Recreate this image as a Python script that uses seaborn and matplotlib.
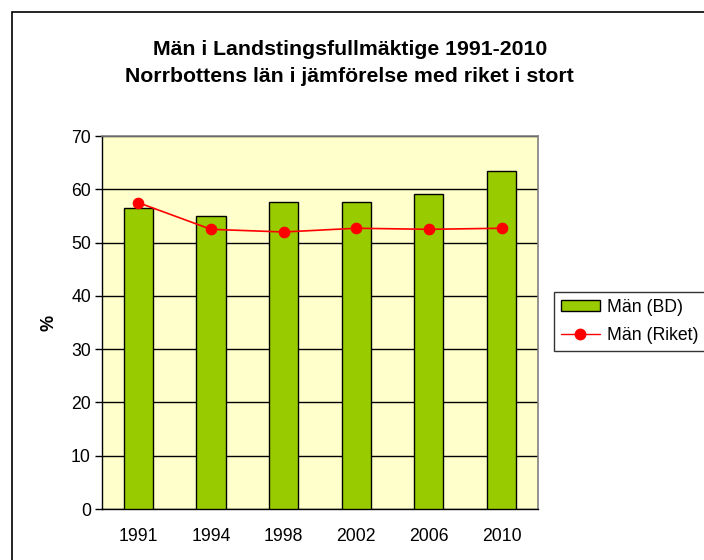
import numpy as np
import pandas as pd
import seaborn as sns
import matplotlib.pyplot as plt
from matplotlib.patches import Rectangle, Patch
from matplotlib.lines import Line2D

years = ["1991", "1994", "1998", "2002", "2006", "2010"]
man_bd = [56.5, 55.0, 57.7, 57.7, 59.1, 63.4]
man_riket = [57.5, 52.5, 52.0, 52.7, 52.5, 52.7]

df = pd.DataFrame({"year": years, "bd": man_bd, "riket": man_riket})

sns.set_style("white")
plt.rcParams['font.family'] = ['Liberation Sans', 'DejaVu Sans']
for key in ["text.color", "axes.labelcolor", "xtick.color", "ytick.color"]:
    plt.rcParams[key] = "black"

fig = plt.figure(figsize=(7.04, 5.6), dpi=100)
ax = fig.add_axes([0.145, 0.091, 0.619, 0.666])
ax.set_facecolor("#ffffcc")

sns.barplot(data=df, x="year", y="bd", color="#99cc00", edgecolor="black",
            linewidth=1, width=0.4, saturation=1, ax=ax, zorder=3)
sns.pointplot(data=df, x="year", y="riket", color="red", markers="o",
              markersize=7.5, linewidth=1.2, ax=ax, zorder=4)

ax.set_ylim(0, 70)
ax.set_xlim(-0.5, 5.5)
ax.set_yticks(range(0, 71, 10))
ax.yaxis.grid(True, color="black", linewidth=1, zorder=0)
ax.set_axisbelow(True)
ax.set_xticks(range(6))
ax.set_xticklabels(years)
ax.set_xticks(np.arange(-0.5, 6, 1), minor=True)
ax.tick_params(axis="x", which="major", length=0, pad=14, labelsize=12.7, colors="black")
ax.tick_params(axis="x", which="minor", length=5, width=1, color="black", direction="out")
ax.tick_params(axis="y", length=5, width=1, color="black", direction="out", labelsize=12.7,
               left=True, pad=3, labelcolor="black")
ax.set_xlabel("")
ax.set_ylabel("%", fontsize=13, fontweight="bold", labelpad=10, color="black")

for side in ["left", "bottom"]:
    ax.spines[side].set_color("black")
    ax.spines[side].set_linewidth(1)
for side in ["top", "right"]:
    ax.spines[side].set_color("#808080")
    ax.spines[side].set_linewidth(1.2)
    ax.spines[side].set_visible(True)

fig.text(0.497, 0.912, "Män i Landstingsfullmäktige 1991-2010", ha="center", va="center",
         fontsize=15.3, fontweight="bold", color="black")
fig.text(0.497, 0.864, "Norrbottens län i jämförelse med riket i stort", ha="center", va="center",
         fontsize=15.3, fontweight="bold", color="black")

handles = [Patch(facecolor="#99cc00", edgecolor="black", linewidth=1),
           Line2D([0], [0], color="red", marker="o", markersize=7.5, linewidth=1)]
leg = fig.legend(handles, ["Män (BD)", "Män (Riket)"], loc="upper left",
                 bbox_to_anchor=(554 / 704, 1 - 292 / 560), frameon=True, fancybox=False,
                 edgecolor="black", fontsize=12.7, handlelength=2.2, handleheight=0.6,
                 borderpad=0.4, labelspacing=0.6, handletextpad=0.4, borderaxespad=0)
leg.get_frame().set_linewidth(1)

fig.patches.append(Rectangle((12 / 704, -0.1), 1.2, 1 - 12 / 560 + 0.1, transform=fig.transFigure,
                             fill=False, edgecolor="black", linewidth=1.2, clip_on=False))

fig.savefig("out.png", dpi=100)
